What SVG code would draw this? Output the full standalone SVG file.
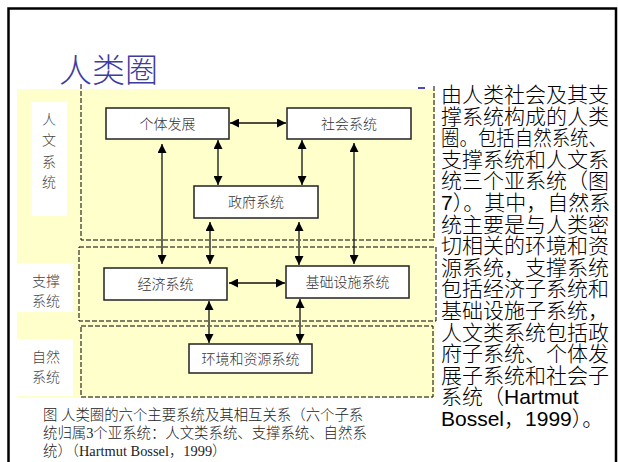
<svg xmlns="http://www.w3.org/2000/svg" width="618" height="462" viewBox="0 0 618 462">
<defs>
<marker id="ah" viewBox="0 0 10 10" refX="10" refY="5" markerWidth="10" markerHeight="9" markerUnits="userSpaceOnUse" orient="auto-start-reverse"><path d="M0,0 L10,5 L0,10 z" fill="#000"/></marker>
</defs>
<style>
.box{fill:#fff;stroke:#222;stroke-width:1.5}
.bt{font-family:"Noto Sans CJK SC",sans-serif;font-size:14px;fill:#333;text-anchor:middle;font-weight:300}
.lab{font-family:"Noto Sans CJK SC",sans-serif;font-size:14px;fill:#444;text-anchor:middle;font-weight:300}
.dash{fill:none;stroke:#000;stroke-width:1;stroke-dasharray:5 2}
.c{fill:none;stroke:#111;stroke-width:1.3;marker-start:url(#ah);marker-end:url(#ah)}
.g{stroke:#666655;stroke-width:2}
.rt{font-family:"Liberation Sans","Noto Sans CJK SC",sans-serif;font-size:21px;fill:#000;font-weight:300}
.cap{font-family:"Liberation Serif","Noto Sans CJK SC",serif;font-size:14.4px;fill:#222;font-weight:300}
</style>
<rect x="0" y="0" width="618" height="462" fill="#fff"/>
<rect x="8.5" y="8.5" width="607.5" height="470" fill="none" stroke="#000" stroke-width="2.5"/>
<text x="59" y="82" font-family="Noto Sans CJK SC, sans-serif" font-size="33" font-weight="300" fill="#3d3da0">人类圈</text>
<rect x="17" y="89" width="418" height="309" fill="#ffffcc"/>
<rect x="418" y="87" width="7" height="2" fill="#4848c8"/>
<g id="labels">
<rect x="31" y="102" width="36" height="114" fill="#fff"/>
<text class="lab" x="49" y="124">人</text>
<text class="lab" x="49" y="145">文</text>
<text class="lab" x="49" y="167">系</text>
<text class="lab" x="49" y="187">统</text>
<rect x="17" y="263" width="56" height="49" fill="#fff"/>
<text class="lab" x="46" y="286">支撑</text>
<text class="lab" x="46" y="306">系统</text>
<rect x="17" y="339" width="56" height="57" fill="#fff"/>
<text class="lab" x="46" y="362">自然</text>
<text class="lab" x="46" y="382">系统</text>
</g>
<g id="groups">
<path class="dash" d="M81,84 V240 H434 V84"/>
<rect class="dash" x="79" y="247" width="357" height="74"/>
<rect class="dash" x="81" y="326" width="352" height="71"/>
</g>
<g id="connectors">
<path class="c" d="M230,123 H286"/>
<path class="c" d="M218,140 V185"/>
<path class="c" d="M302,140 V185"/>
<path class="c" d="M162,144 V264"/>
<path class="c g" d="M210,222 V264"/>
<path class="c g" d="M299,222 V265"/>
<path class="c" d="M354,143 V264"/>
<path class="c" d="M229,283 H285"/>
<path class="c g" d="M209,301 V343"/>
<path class="c g" d="M300,299 V343"/>
</g>
<g id="n-geti"><rect class="box" x="106" y="108" width="123" height="31"/><text class="bt" x="167.5" y="128.5">个体发展</text></g>
<g id="n-shehui"><rect class="box" x="287" y="108" width="124" height="31"/><text class="bt" x="349" y="128.5">社会系统</text></g>
<g id="n-zhengfu"><rect class="box" x="194" y="186" width="124" height="32"/><text class="bt" x="256" y="207">政府系统</text></g>
<g id="n-jingji"><rect class="box" x="104" y="268" width="123" height="32"/><text class="bt" x="165.5" y="289">经济系统</text></g>
<g id="n-jichu"><rect class="box" x="286" y="266" width="123" height="32"/><text class="bt" x="347.5" y="287">基础设施系统</text></g>
<g id="n-huanjing"><rect class="box" x="189" y="344" width="123" height="29"/><text class="bt" x="250.5" y="363.5">环境和资源系统</text></g>
<g id="caption">
<text class="cap" x="43" y="420">图 人类圈的六个主要系统及其相互关系（六个子系</text>
<text class="cap" x="43" y="438">统归属3个亚系统：人文类系统、支撑系统、自然系</text>
<text class="cap" x="43" y="456">统）（Hartmut Bossel，1999）</text>
</g>
<g id="bodytext">
<text class="rt" x="441" y="102">由人类社会及其支</text>
<text class="rt" x="441" y="123.6">撑系统构成的人类</text>
<text class="rt" x="441" y="145.2" font-size="18.5" textLength="166" lengthAdjust="spacingAndGlyphs">圈。包括自然系统、</text>
<text class="rt" x="441" y="166.8">支撑系统和人文系</text>
<text class="rt" x="441" y="188.4">统三个亚系统（图</text>
<text class="rt" x="441" y="210">7）。其中，自然系</text>
<text class="rt" x="441" y="231.6">统主要是与人类密</text>
<text class="rt" x="441" y="253.2">切相关的环境和资</text>
<text class="rt" x="441" y="274.8">源系统，支撑系统</text>
<text class="rt" x="441" y="296.4">包括经济子系统和</text>
<text class="rt" x="441" y="318">基础设施子系统，</text>
<text class="rt" x="441" y="339.6">人文类系统包括政</text>
<text class="rt" x="441" y="361.2">府子系统、个体发</text>
<text class="rt" x="441" y="382.8">展子系统和社会子</text>
<text class="rt" x="441" y="404.4">系统（Hartmut</text>
<text class="rt" x="441" y="426">Bossel，1999）。</text>
</g>
</svg>
